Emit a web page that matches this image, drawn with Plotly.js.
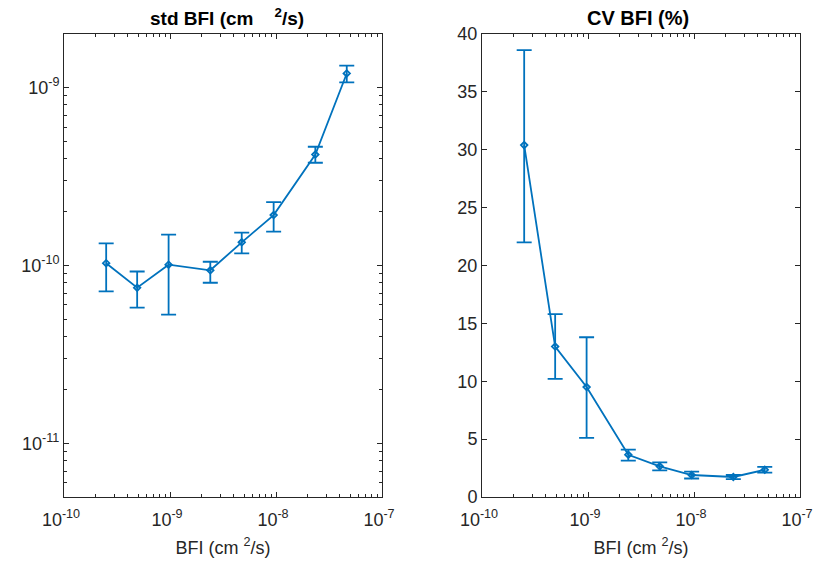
<!DOCTYPE html>
<html>
<head>
<meta charset="utf-8">
<script src="https://cdn.plot.ly/plotly-3.0.1.min.js"></script>
<style>
  html, body { margin: 0; padding: 0; background: #ffffff; }
  #chart { width: 814px; height: 563px; }
</style>
</head>
<body>
<div id="chart"></div>
<script>
// Mean blood flow index per group (cm^2/s)
const bfi = [2.5e-10, 4.9e-10, 9.7e-10, 2.4e-9, 4.75e-9, 9.5e-9, 2.35e-8, 4.65e-8];

// Standard deviation of BFI, with error-bar limits
const stdBfi      = [1.03e-10, 7.5e-11, 1.01e-10, 9.4e-11, 1.35e-10, 1.92e-10, 4.2e-10, 1.2e-9];
const stdBfiUpper = [1.33e-10, 9.25e-11, 1.49e-10, 1.05e-10, 1.53e-10, 2.27e-10, 4.65e-10, 1.33e-9];
const stdBfiLower = [7.15e-11, 5.8e-11, 5.3e-11, 8.0e-11, 1.17e-10, 1.55e-10, 3.78e-10, 1.07e-9];

// Coefficient of variation of BFI (%), with error-bar limits
const cvBfi      = [30.4, 13.0, 9.5, 3.65, 2.65, 1.9, 1.73, 2.35];
const cvBfiUpper = [38.6, 15.8, 13.8, 4.1, 3.0, 2.2, 1.9, 2.6];
const cvBfiLower = [22.0, 10.2, 5.1, 3.15, 2.3, 1.6, 1.55, 2.1];

// Axis tick labels
const xTickVals  = [1e-10, 1e-9, 1e-8, 1e-7];
const xTickText  = ['10<sup>-10</sup>', '10<sup>-9</sup>', '10<sup>-8</sup>', '10<sup>-7</sup>'];
const y1TickVals = [1e-11, 1e-10, 1e-9];
const y1TickText = ['10<sup>-11</sup>', '10<sup>-10</sup>', '10<sup>-9</sup>'];
const y2TickVals = [0, 5, 10, 15, 20, 25, 30, 35, 40];

// Minor ticks at 2..9 within each decade
function decadeMinors(lo, hi) {
  const out = [];
  for (let e = lo; e < hi; e++) {
    for (let m = 2; m <= 9; m++) out.push(m * Math.pow(10, e));
  }
  return out;
}

const blue = '#0072BD';
const axisColor = '#262626';
const fontFamily = '"Liberation Sans", Arial, Helvetica, sans-serif';

function diffs(a, b) { return a.map((v, i) => v - b[i]); }

function errTrace(y, upper, lower, xa, ya) {
  return {
    x: bfi, y: y, xaxis: xa, yaxis: ya,
    type: 'scatter', mode: 'lines+markers',
    line: { color: blue, width: 1.8 },
    marker: { symbol: 'diamond-open', size: 5, color: blue, line: { color: blue, width: 1.8 } },
    error_y: {
      type: 'data', symmetric: false,
      array: diffs(upper, y),
      arrayminus: diffs(y, lower),
      color: blue, thickness: 1.8, width: 7.5
    },
    showlegend: false, hoverinfo: 'x+y'
  };
}

const traceStd = errTrace(stdBfi, stdBfiUpper, stdBfiLower, 'x', 'y');
const traceCv = errTrace(cvBfi, cvBfiUpper, cvBfiLower, 'x2', 'y2');

const commonAxis = {
  showline: true, linecolor: axisColor, linewidth: 1, mirror: 'ticks',
  ticks: 'inside', ticklen: 5, tickwidth: 1, tickcolor: axisColor,
  showgrid: false, zeroline: false, ticklabeloverflow: 'allow',
  tickfont: { family: fontFamily, size: 18, color: axisColor }
};

const logX = (domain) => Object.assign({}, commonAxis, {
  type: 'log', domain: domain, range: [-10, -7],
  tickmode: 'array', tickvals: xTickVals, ticktext: xTickText,
  ticklabelstandoff: 6, ticklabelshift: -3,
  minor: { tickmode: 'array', tickvals: decadeMinors(-10, -7), ticks: 'inside', ticklen: 3, tickcolor: axisColor, showgrid: false },
  title: { text: 'BFI (cm&nbsp;<sup>2</sup>/s)', font: { family: fontFamily, size: 18, color: axisColor }, standoff: 12 }
});

const layout = {
  width: 814, height: 563,
  margin: { l: 64, r: 14, t: 34, b: 66 },
  paper_bgcolor: '#ffffff', plot_bgcolor: '#ffffff',
  font: { family: fontFamily, color: axisColor },
  xaxis: Object.assign(logX([0, 318 / 736]), { anchor: 'y' }),
  xaxis2: Object.assign(logX([418 / 736, 1]), { anchor: 'y2' }),
  yaxis: Object.assign({}, commonAxis, {
    type: 'log', anchor: 'x',
    range: [Math.log10(5e-12), Math.log10(2e-9)],
    tickmode: 'array', tickvals: y1TickVals, ticktext: y1TickText,
    minor: { tickmode: 'array', tickvals: decadeMinors(-12, -8).filter(v => v >= 5e-12 && v <= 2e-9), ticks: 'inside', ticklen: 3, tickcolor: axisColor, showgrid: false }
  }),
  yaxis2: Object.assign({}, commonAxis, {
    anchor: 'x2', range: [0, 40],
    tickmode: 'array', tickvals: y2TickVals
  }),
  annotations: [
    { text: '<b>std BFI (cm&nbsp;&nbsp;&nbsp;&nbsp;<sup>2</sup>/s)</b>', xref: 'paper', yref: 'paper',
      x: (148 - 64) / 736, y: 1, yshift: 3, xanchor: 'left', yanchor: 'bottom', showarrow: false,
      font: { family: fontFamily, size: 19, color: '#000000' } },
    { text: '<b>CV BFI (%)</b>', xref: 'paper', yref: 'paper',
      x: (638 - 64) / 736, y: 1, yshift: 3, xanchor: 'center', yanchor: 'bottom', showarrow: false,
      font: { family: fontFamily, size: 20, color: '#000000' } }
  ]
};

Plotly.newPlot('chart', [traceStd, traceCv], layout, { displayModeBar: false, staticPlot: true });
</script>
</body>
</html>
